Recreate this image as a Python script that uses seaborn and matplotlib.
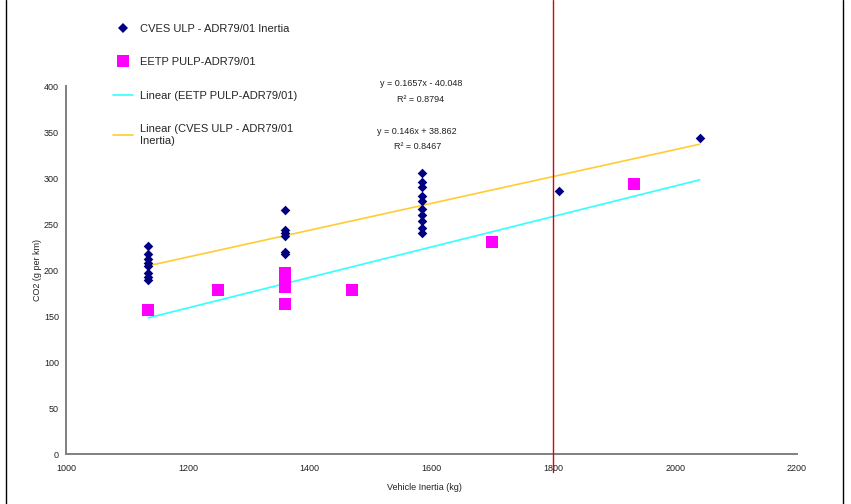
import numpy as np
import pandas as pd
import matplotlib
matplotlib.use("Agg")
import matplotlib.pyplot as plt
from matplotlib.lines import Line2D
import seaborn as sns

# Measured CO2 emissions against vehicle inertia
cves_inertia = [1135] * 8 + [1360] * 6 + [1585] * 10 + [1810, 2040]
cves_co2 = [226, 217, 212, 208, 204, 197, 192, 189,
            265, 244, 240, 237, 220, 217,
            305, 296, 290, 280, 275, 266, 260, 253, 246, 240,
            286, 344]
eetp_inertia = [1135, 1250, 1360, 1360, 1360, 1360, 1470, 1700, 1932]
eetp_co2 = [157, 178, 197, 185, 181, 163, 178, 230, 294]

# Linear trend coefficients
eetp_slope, eetp_intercept, eetp_r2 = 0.1657, -40.048, 0.8794
cves_slope, cves_intercept, cves_r2 = 0.146, 38.862, 0.8467

x_ticks = [1000, 1200, 1400, 1600, 1800, 2000, 2200]
y_ticks = [0, 50, 100, 150, 200, 250, 300, 350, 400]
marker_line = 1800

sns.set_style("white")
plt.rcParams["font.family"] = ["Liberation Sans", "DejaVu Sans"]

W, H = 851, 504
fig = plt.figure(figsize=(W / 100, H / 100), dpi=100)
ax = fig.add_axes([66 / W, 50 / H, 731 / W, 368 / H])

cves = pd.DataFrame({"inertia": cves_inertia, "co2": cves_co2})
eetp = pd.DataFrame({"inertia": eetp_inertia, "co2": eetp_co2})

x_all = np.array(cves_inertia + eetp_inertia)
trend_x = np.array([x_all.min(), x_all.max()])
trend = pd.DataFrame({
    "inertia": trend_x,
    "eetp": eetp_slope * trend_x + eetp_intercept,
    "cves": cves_slope * trend_x + cves_intercept,
})

sns.lineplot(data=trend, x="inertia", y="eetp", ax=ax, color="#33FFFF", lw=1.2)
sns.lineplot(data=trend, x="inertia", y="cves", ax=ax, color="#FFCC33", lw=1.2)
sns.scatterplot(data=cves, x="inertia", y="co2", ax=ax, marker="D", s=24,
                color="#000080", linewidth=0, zorder=3)
sns.scatterplot(data=eetp, x="inertia", y="co2", ax=ax, marker="s", s=64,
                color="#FF00FF", linewidth=0, zorder=3)

ax.axvline(marker_line, ymin=-0.05, ymax=454 / 368, color="#E00000", lw=1,
           clip_on=False, zorder=4)

ax.set_xlim(x_ticks[0], x_ticks[-1])
ax.set_ylim(y_ticks[0], y_ticks[-1])
ax.set_xticks(x_ticks)
ax.set_yticks(y_ticks)
for side in ("top", "right"):
    ax.spines[side].set_visible(False)
for side in ("left", "bottom"):
    ax.spines[side].set_color("#808080")
    ax.spines[side].set_linewidth(1.4)
ax.tick_params(axis="both", direction="out", length=3, width=1, color="#404040",
               labelsize=6.5, labelcolor="#222222")
ax.tick_params(axis="x", pad=4)
ax.tick_params(axis="y", pad=2)

ax.set_xlabel("Vehicle Inertia (kg)", fontsize=6.5, color="#222222")
ax.set_ylabel("CO2 (g per km)", fontsize=6.5, color="#222222")
ax.xaxis.set_label_coords(0.491, -0.078)
ax.yaxis.set_label_coords(-0.033, 0.5)

# Trend equations
eq_style = dict(fontsize=6.5, color="#222222", ha="center", va="center",
                transform=fig.transFigure)
fig.text(421 / W, 1 - 84 / H, f"y = {eetp_slope}x - {abs(eetp_intercept)}", **eq_style)
fig.text(421 / W, 1 - 99 / H, f"R² = {eetp_r2}", **eq_style)
fig.text(417 / W, 1 - 132 / H, f"y = {cves_slope}x + {cves_intercept}", **eq_style)
fig.text(418 / W, 1 - 146 / H, f"R² = {cves_r2}", **eq_style)

handles = [
    Line2D([], [], ls="none", marker="D", ms=5, color="#000080", mew=0),
    Line2D([], [], ls="none", marker="s", ms=8, color="#FF00FF", mew=0),
    Line2D([], [], color="#33FFFF", lw=1.2),
    Line2D([], [], color="#FFCC33", lw=1.2),
]
labels = [
    "CVES ULP - ADR79/01 Inertia",
    "EETP PULP-ADR79/01",
    "Linear (EETP PULP-ADR79/01)",
    "Linear (CVES ULP - ADR79/01\nInertia)",
]
fig.legend(handles, labels, loc="upper left", bbox_to_anchor=(113 / W, 1 - 24 / H),
           frameon=False, fontsize=8, labelspacing=2.1, handlelength=1.8,
           handletextpad=0.6, borderpad=0, borderaxespad=0)

# Outer frame edges
for xf in (6 / W, 843 / W):
    fig.add_artist(Line2D([xf, xf], [0, 1], color="black", lw=1,
                          transform=fig.transFigure))

fig.savefig("out.png", dpi=100)
